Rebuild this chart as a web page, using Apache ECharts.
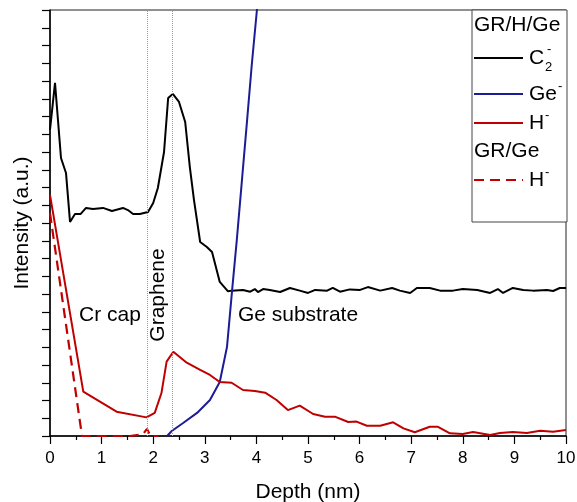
<!DOCTYPE html>
<html>
<head>
<meta charset="utf-8">
<script src="https://cdn.jsdelivr.net/npm/echarts@6/dist/echarts.min.js"></script>
<style>
html,body{margin:0;padding:0;background:#fff;}
#chart{width:577px;height:502px;}
</style>
</head>
<body>
<div id="chart"></div>
<script>
// ---- data (depth in nm, intensity in arbitrary units) ----
var xTicks = [0,1,2,3,4,5,6,7,8,9,10];

var c2Depth = [0,0.097,0.213,0.31,0.388,0.484,0.595,0.698,0.833,1.027,1.2,1.415,1.51,1.61,1.74,1.9,2.0,2.09,2.21,2.29,2.38,2.5,2.62,2.71,2.79,2.91,3.04,3.14,3.29,3.45,3.52,3.74,3.88,3.97,4.03,4.13,4.26,4.46,4.65,4.84,5.0,5.14,5.37,5.48,5.62,5.81,6.01,6.16,6.4,6.63,6.78,6.98,7.11,7.36,7.56,7.81,8.0,8.28,8.53,8.68,8.78,8.97,9.17,9.36,9.63,9.75,9.88,10.0];
var c2Values = [17.24,19.89,15.66,14.82,12.06,12.51,12.51,12.85,12.79,12.85,12.68,12.85,12.73,12.51,12.51,12.62,13.13,13.97,16.0,19.04,19.27,18.82,17.69,15.15,13.3,10.93,10.65,10.37,8.68,8.15,8.19,8.23,8.13,8.28,8.11,8.28,8.23,8.11,8.34,8.19,8.06,8.23,8.19,8.34,8.13,8.26,8.23,8.39,8.19,8.34,8.19,8.06,8.34,8.34,8.19,8.19,8.28,8.23,8.06,8.28,8.06,8.34,8.23,8.19,8.23,8.17,8.34,8.34];

var geDepth = [2.27,2.36,2.58,2.85,3.10,3.29,3.43,3.53,3.62,3.72,3.82,3.91,4.01,4.05];
var geValues = [0,0.28,0.73,1.30,2.03,3.04,5.01,8.23,11.04,14.42,17.80,20.90,24.0,25.2];

var hDepth = [0,0.645,1.29,1.87,2.03,2.16,2.26,2.39,2.65,2.91,3.10,3.29,3.52,3.74,3.97,4.17,4.39,4.61,4.84,5.10,5.33,5.52,5.78,5.94,6.14,6.40,6.65,6.85,7.07,7.36,7.52,7.75,8.00,8.20,8.53,8.72,8.97,9.24,9.50,9.75,10.0];
var hValues = [13.58,2.50,1.37,1.05,1.30,2.42,4.19,4.75,4.13,3.72,3.44,3.04,3.00,2.59,2.54,2.44,2.03,1.46,1.71,1.24,1.09,1.09,0.79,0.81,0.58,0.58,0.77,0.43,0.21,0.52,0.52,0.15,0.11,0.23,0.06,0.17,0.23,0.17,0.30,0.24,0.34];

var hRefDepth = [0,0.62,1.0,1.55,1.8,1.88,1.95,2.1];
var hRefValues = [12.56,0,0,0,0.1,0.4,0,0];

var layerBoundaries = [1.88,2.37];

function zip(a,b){return a.map(function(v,i){return [v,b[i]];});}

var BLACK='#000000', BLUE='#1c1c96', RED='#c00000';
var FONT='Liberation Sans, Arial, sans-serif';

var chart = echarts.init(document.getElementById('chart'), null, {renderer:'canvas'});
function txt(x,y,s,size,extra){
  var o={type:'text',x:x,y:y,style:{text:s,font:size+'px '+FONT,fill:'#000',textAlign:'left',textVerticalAlign:'middle'},z:21};
  if(extra){for(var k in extra){o[k]=extra[k];}}
  return o;
}
var option = {
  animation:false,
  backgroundColor:'#ffffff',
  grid:{left:50,right:11,top:10,bottom:66,containLabel:false,outerBoundsMode:'none',
        show:true,borderColor:'#222',borderWidth:1},
  xAxis:{
    type:'value',min:0,max:10,interval:1,
    name:'Depth (nm)',nameLocation:'middle',nameGap:46,
    nameTextStyle:{fontFamily:FONT,fontSize:21,color:'#000'},
    axisLine:{show:true,onZero:false,lineStyle:{color:'#000',width:1.5}},
    axisTick:{show:true,inside:false,length:8,lineStyle:{color:'#000',width:1.2}},
    minorTick:{show:true,splitNumber:2,length:4,lineStyle:{color:'#000',width:1.2}},
    axisLabel:{fontFamily:FONT,fontSize:17,color:'#000',margin:14,
      formatter:function(v){return xTicks.indexOf(v)>=0?String(v):'';}},
    splitLine:{show:false}
  },
  yAxis:{
    type:'value',min:0,max:24,interval:1,
    name:'Intensity (a.u.)',nameLocation:'middle',nameGap:17,
    nameTextStyle:{fontFamily:FONT,fontSize:21,color:'#000'},
    axisLine:{show:true,onZero:false,lineStyle:{color:'#000',width:1.5}},
    axisTick:{show:true,inside:false,length:8,lineStyle:{color:'#000',width:1.2}},
    axisLabel:{show:false},
    splitLine:{show:false}
  },
  series:[
    {type:'line',name:'C2-',data:zip(c2Depth,c2Values),symbol:'none',smooth:false,
     lineStyle:{color:BLACK,width:2},z:3,
     markLine:{silent:true,symbol:'none',label:{show:false},
       lineStyle:{color:'#999',type:'dotted',width:1},
       data:layerBoundaries.map(function(v){return {xAxis:v};})}},
    {type:'line',name:'Ge-',data:zip(geDepth,geValues),symbol:'none',
     lineStyle:{color:BLUE,width:2},z:3,clip:true},
    {type:'line',name:'H-',data:zip(hDepth,hValues),symbol:'none',
     lineStyle:{color:RED,width:2},z:3},
    {type:'line',name:'H- ref',data:zip(hRefDepth,hRefValues),symbol:'none',
     lineStyle:{color:RED,width:2.2,type:[10,6]},z:2}
  ],
  graphic:[
    // annotations
    {type:'text',x:110,y:315,style:{text:'Cr cap',font:'21px '+FONT,fill:'#000',textAlign:'center',textVerticalAlign:'middle'},z:10},
    {type:'text',x:158,y:295,rotation:Math.PI/2,style:{text:'Graphene',font:'21px '+FONT,fill:'#000',textAlign:'center',textVerticalAlign:'middle'},z:10},
    {type:'text',x:298,y:315,style:{text:'Ge substrate',font:'21px '+FONT,fill:'#000',textAlign:'center',textVerticalAlign:'middle'},z:10},
    // legend box
    {type:'rect',shape:{x:472,y:10,width:95,height:212},style:{fill:'#fff',stroke:'#444',lineWidth:1},z:20},
    txt(474,25,'GR/H/Ge',21),
    {type:'line',shape:{x1:474,y1:58,x2:523,y2:58},style:{stroke:BLACK,lineWidth:2},z:21},
    txt(529,58,'C',21),
    txt(545,67,'2',13),
    txt(547,49,'-',13),
    {type:'line',shape:{x1:474,y1:94,x2:523,y2:94},style:{stroke:BLUE,lineWidth:2},z:21},
    txt(529,94,'Ge',21),
    txt(558,86,'-',13),
    {type:'line',shape:{x1:474,y1:123,x2:523,y2:123},style:{stroke:RED,lineWidth:2},z:21},
    txt(529,123,'H',21),
    txt(545,115,'-',13),
    txt(474,151,'GR/Ge',21),
    {type:'line',shape:{x1:474,y1:180,x2:523,y2:180},style:{stroke:RED,lineWidth:2.2,lineDash:[10,6]},z:21},
    txt(529,180,'H',21),
    txt(545,172,'-',13)
  ]
};
chart.setOption(option);
</script>
</body>
</html>
